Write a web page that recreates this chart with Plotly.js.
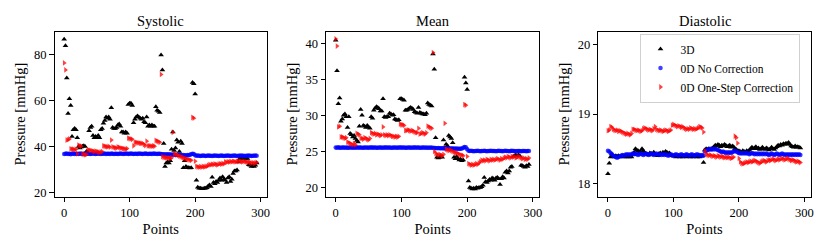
<!DOCTYPE html>
<html><head><meta charset="utf-8">
<script src="https://cdn.plot.ly/plotly-3.0.1.min.js"></script>
<style>html,body{margin:0;padding:0;background:#fff}#chart{width:830px;height:249px}</style>
</head><body><div id="chart"></div>
<script>
// point index (every 2nd sample)
const points = [0,2,4,6,8,10,12,14,16,18,20,22,24,26,28,30,32,34,36,38,40,42,44,46,48,50,52,54,56,58,60,62,64,66,68,70,72,74,76,78,80,82,84,86,88,90,92,94,96,98,100,102,104,106,108,110,112,114,116,118,120,122,124,126,128,130,132,134,136,138,140,142,144,146,148,150,152,154,156,158,160,162,164,166,168,170,172,174,176,178,180,182,184,186,188,190,192,194,196,198,200,202,204,206,208,210,212,214,216,218,220,222,224,226,228,230,232,234,236,238,240,242,244,246,248,250,252,254,256,258,260,262,264,266,268,270,272,274,276,278,280,282,284,286,288,290,292,294];

// Systolic
const sys3D = [86.8,84.0,70.0,54.5,61.0,58.0,44.5,47.5,48.0,47.5,
 44.0,40.2,39.5,40.0,40.3,40.5,40.2,38.0,37.8,47.0,
 48.5,49.0,45.0,44.0,44.5,44.0,45.0,44.0,47.5,48.0,
 50.3,51.5,53.0,52.5,53.0,52.0,57.0,48.5,48.0,48.0,
 48.5,49.5,50.0,49.0,46.5,46.5,46.0,46.5,46.0,58.5,
 59.0,59.0,58.0,50.5,52.0,53.0,53.5,53.0,52.5,52.0,
 52.5,51.0,50.5,53.0,49.0,49.5,49.0,49.5,49.0,49.0,
 57.5,56.0,55.5,55.0,80.0,73.5,41.5,31.5,33.0,33.5,
 33.0,34.0,39.0,46.5,38.5,39.5,43.0,42.0,38.0,42.5,
 41.5,31.0,34.0,31.5,31.0,31.0,30.8,31.0,68.0,67.5,
 63.0,25.5,22.5,22.0,22.0,21.8,21.8,22.0,22.0,22.2,
 23.0,23.5,22.8,26.8,24.5,24.0,25.0,24.5,25.5,26.5,
 25.5,27.0,26.0,25.5,24.5,26.5,27.0,25.0,26.0,28.5,
 29.5,29.5,30.0,33.5,35.0,35.0,34.8,35.2,35.0,34.8,
 35.0,32.3,32.0,31.5,32.0,31.5,32.0,33.0];
const sys0D = [36.9,37.0,37.1,36.9,37.0,36.8,37.0,37.1,36.9,37.0,
 37.0,36.9,37.1,37.0,36.9,37.0,37.1,36.9,37.0,37.0,
 36.9,37.0,37.1,37.0,36.9,37.0,37.0,37.1,36.9,37.0,
 37.0,37.1,36.9,37.0,37.0,36.9,37.1,37.0,36.9,37.0,
 37.0,36.9,37.0,37.1,37.0,36.9,37.0,37.0,37.1,36.9,
 37.0,37.1,37.0,36.9,37.0,37.0,36.9,37.1,37.0,37.0,
 36.9,37.0,37.1,37.0,36.9,37.0,37.0,36.9,37.1,37.0,
 37.0,36.9,37.0,37.0,36.9,36.8,36.8,36.7,36.8,36.7,
 36.8,36.7,36.6,36.7,36.6,36.5,36.6,36.5,36.6,36.5,
 36.4,36.5,36.4,36.3,36.5,36.4,36.6,36.8,37.0,36.9,
 36.4,36.2,36.3,36.2,36.1,36.2,36.3,36.2,36.1,36.2,
 36.3,36.2,36.2,36.1,36.2,36.3,36.2,36.2,36.1,36.2,
 36.3,36.2,36.1,36.2,36.2,36.3,36.2,36.1,36.2,36.2,
 36.3,36.2,36.1,36.2,36.2,36.3,36.2,36.2,36.1,36.2,
 36.2,36.3,36.2,36.1,36.2,36.2,36.3,36.2];
const sys0DOne = [76.5,73.5,43.0,43.2,43.5,39.2,39.0,39.0,38.8,39.0,
 37.0,40.8,40.5,40.3,37.0,36.8,36.5,36.8,38.8,38.6,
 38.5,38.4,38.2,38.0,38.2,38.0,37.8,37.6,37.8,38.0,
 40.5,40.3,40.1,40.0,40.2,39.9,43.0,40.0,39.8,39.6,
 39.5,40.0,39.8,39.5,39.5,39.3,39.2,39.0,39.3,43.8,
 43.6,43.5,43.3,40.5,42.0,42.0,41.8,41.8,41.6,41.5,
 41.5,41.0,40.6,42.5,40.5,40.5,40.4,40.3,40.5,40.3,
 42.8,42.5,42.3,42.0,71.5,35.8,35.5,35.4,35.3,35.2,
 35.2,35.0,35.3,46.3,37.0,36.8,36.5,36.3,36.0,35.8,
 35.5,35.3,35.0,34.8,34.6,34.5,34.3,34.2,52.8,52.5,
 33.8,31.5,31.3,31.2,31.4,31.2,31.5,31.3,31.5,31.6,
 32.0,32.3,32.2,32.5,32.3,32.6,32.4,32.2,32.5,32.7,
 32.5,32.8,32.6,33.5,33.3,33.6,33.4,33.7,33.5,33.8,
 33.6,33.5,33.8,33.6,33.9,33.7,33.5,33.8,33.6,33.5,
 33.3,33.5,33.2,33.0,33.2,32.9,33.1,33.3];

// Mean
const mean3D = [40.4,36.2,31.6,32.4,29.2,29.5,30.0,30.2,29.8,28.3,
 29.8,27.5,27.3,27.0,27.2,26.8,26.5,26.3,28.5,30.8,
 30.0,28.6,28.5,28.3,28.6,28.4,28.2,29.8,29.6,30.7,
 31.0,31.2,31.1,30.9,30.6,30.6,32.3,29.8,29.7,29.8,
 29.8,30.3,30.2,30.0,30.1,29.5,29.4,29.3,29.4,32.3,
 32.3,32.2,32.1,30.7,30.7,30.8,31.0,31.1,31.0,30.8,
 30.5,30.4,30.3,31.1,30.4,30.3,30.2,30.2,30.1,30.3,
 31.7,31.5,31.4,31.3,38.5,36.4,26.9,24.2,24.1,24.2,
 24.3,24.2,26.6,25.5,26.0,25.8,27.2,27.0,26.8,26.2,
 24.2,24.0,24.3,24.0,23.8,23.9,23.7,23.8,35.3,34.5,
 33.6,20.9,20.0,19.9,19.8,19.9,19.8,20.0,19.9,20.0,
 20.0,20.1,20.3,21.4,20.8,20.7,20.9,21.1,21.0,21.3,
 21.2,21.0,21.3,21.4,21.2,20.4,21.2,21.5,21.3,22.1,
 22.3,22.0,22.3,22.8,22.9,24.3,24.4,24.5,24.4,24.5,
 24.4,23.1,23.0,22.9,22.8,23.0,22.9,23.2];
const mean0D = [25.55,25.5,25.57,25.52,25.5,25.56,25.53,25.5,25.55,25.52,
 25.5,25.56,25.53,25.5,25.55,25.52,25.57,25.5,25.53,25.55,
 25.52,25.5,25.56,25.53,25.5,25.55,25.52,25.57,25.5,25.53,
 25.55,25.52,25.5,25.56,25.53,25.5,25.55,25.52,25.57,25.5,
 25.53,25.55,25.52,25.5,25.56,25.53,25.5,25.55,25.52,25.57,
 25.5,25.53,25.55,25.52,25.5,25.56,25.53,25.5,25.55,25.52,
 25.57,25.5,25.53,25.55,25.52,25.5,25.56,25.53,25.5,25.55,
 25.52,25.5,25.53,25.5,25.52,25.48,25.47,25.45,25.46,25.44,
 25.45,25.43,25.44,25.42,25.43,25.41,25.42,25.4,25.41,25.39,
 25.4,25.38,25.39,25.37,25.38,25.36,25.4,25.5,25.6,25.58,
 25.3,25.1,25.05,25.08,25.06,25.04,25.07,25.05,25.08,25.06,
 25.04,25.07,25.05,25.08,25.06,25.04,25.07,25.05,25.08,25.06,
 25.05,25.07,25.04,25.06,25.08,25.05,25.07,25.04,25.06,25.08,
 25.05,25.07,25.04,25.06,25.08,25.05,25.07,25.04,25.06,25.05,
 25.07,25.04,25.06,25.05,25.07,25.04,25.06,25.05];
const mean0DOne = [40.6,39.6,28.4,28.5,27.0,27.0,26.9,26.8,26.9,26.3,
 26.2,26.1,26.0,25.9,26.1,25.9,27.5,27.4,27.3,26.8,
 26.8,26.7,26.9,26.8,26.7,26.6,26.8,27.6,27.5,27.4,
 27.5,27.3,27.4,27.3,27.2,27.3,28.4,27.3,27.2,27.3,
 27.2,27.3,27.2,27.1,27.1,27.0,27.1,27.0,27.1,28.8,
 28.7,28.7,28.6,27.9,27.9,28.0,27.9,27.8,27.9,27.8,
 27.7,27.6,27.6,28.2,27.4,27.5,27.6,27.5,27.4,27.6,
 28.5,28.4,28.3,28.2,38.7,25.0,24.7,24.6,24.5,24.6,
 24.5,24.4,24.6,28.9,25.3,25.2,25.1,25.2,25.1,25.0,
 24.9,24.8,24.8,24.7,24.6,24.5,24.5,24.4,31.5,31.4,
 24.3,23.3,23.2,23.1,23.2,23.1,23.2,23.3,23.2,23.4,
 23.6,23.8,23.7,23.8,23.7,23.9,23.8,23.7,23.9,23.8,
 23.9,23.8,23.9,24.0,23.9,23.8,24.0,23.9,24.1,24.2,
 24.1,24.3,24.2,24.1,24.3,24.2,24.3,24.1,24.2,24.3,
 24.2,24.1,24.0,24.1,23.9,24.0,23.9,24.1];

// Diastolic
const dia3D = [18.14,18.29,18.38,18.42,18.40,18.38,18.40,18.39,18.40,18.38,
 18.39,18.40,18.38,18.39,18.38,18.40,18.38,18.39,18.38,18.42,
 18.45,18.50,18.48,18.47,18.45,18.46,18.50,18.47,18.44,18.43,
 18.42,18.41,18.44,18.43,18.42,18.45,18.42,18.41,18.40,18.43,
 18.44,18.42,18.45,18.43,18.46,18.45,18.43,18.44,18.41,18.40,
 18.39,18.40,18.38,18.39,18.40,18.38,18.39,18.38,18.40,18.39,
 18.38,18.39,18.40,18.38,18.39,18.38,18.40,18.39,18.38,18.39,
 18.38,18.39,18.40,18.30,18.48,18.50,18.49,18.50,18.48,18.50,
 18.51,18.53,18.55,18.54,18.56,18.55,18.53,18.55,18.54,18.56,
 18.55,18.53,18.54,18.55,18.52,18.54,18.53,18.50,18.49,18.47,
 18.47,18.46,18.45,18.47,18.46,18.45,18.47,18.46,18.48,18.50,
 18.52,18.50,18.51,18.53,18.50,18.51,18.49,18.50,18.52,18.50,
 18.49,18.51,18.50,18.48,18.50,18.52,18.50,18.49,18.51,18.53,
 18.55,18.54,18.56,18.55,18.57,18.56,18.58,18.57,18.59,18.56,
 18.54,18.53,18.52,18.54,18.52,18.53,18.52,18.51];
const dia0D = [18.47,18.46,18.44,18.42,18.40,18.39,18.38,18.37,18.38,18.39,
 18.40,18.41,18.40,18.41,18.42,18.41,18.42,18.41,18.42,18.43,
 18.42,18.43,18.42,18.41,18.42,18.43,18.42,18.41,18.42,18.43,
 18.42,18.41,18.42,18.43,18.42,18.41,18.42,18.43,18.42,18.41,
 18.42,18.41,18.42,18.41,18.42,18.41,18.40,18.41,18.42,18.41,
 18.40,18.41,18.42,18.41,18.40,18.41,18.42,18.41,18.40,18.41,
 18.42,18.41,18.40,18.41,18.42,18.41,18.40,18.41,18.42,18.41,
 18.41,18.40,18.41,18.40,18.46,18.47,18.48,18.49,18.50,18.49,
 18.50,18.49,18.50,18.49,18.48,18.47,18.46,18.45,18.46,18.45,
 18.44,18.45,18.44,18.45,18.44,18.45,18.46,18.47,18.46,18.45,
 18.44,18.43,18.44,18.43,18.44,18.43,18.44,18.43,18.42,18.43,
 18.44,18.43,18.42,18.43,18.42,18.43,18.42,18.43,18.42,18.43,
 18.42,18.43,18.42,18.41,18.42,18.43,18.42,18.41,18.42,18.43,
 18.42,18.41,18.42,18.43,18.42,18.41,18.42,18.41,18.42,18.41,
 18.42,18.41,18.42,18.41,18.42,18.41,18.42,18.41];
const dia0DOne = [18.76,18.77,18.82,18.81,18.78,18.77,18.76,18.77,18.75,18.76,
 18.75,18.74,18.73,18.72,18.71,18.72,18.71,18.70,18.72,18.78,
 18.78,18.77,18.76,18.77,18.76,18.75,18.76,18.79,18.80,18.79,
 18.78,18.77,18.78,18.77,18.76,18.79,18.82,18.78,18.77,18.76,
 18.77,18.76,18.75,18.76,18.77,18.76,18.75,18.76,18.77,18.84,
 18.85,18.84,18.83,18.82,18.83,18.82,18.81,18.82,18.80,18.79,
 18.78,18.79,18.78,18.80,18.79,18.78,18.79,18.78,18.79,18.80,
 18.82,18.81,18.80,18.74,18.47,18.42,18.41,18.40,18.41,18.40,
 18.39,18.40,18.39,18.38,18.40,18.39,18.38,18.39,18.38,18.37,
 18.38,18.37,18.38,18.37,18.36,18.37,18.38,18.68,18.66,18.58,
 18.36,18.31,18.29,18.28,18.29,18.30,18.31,18.30,18.31,18.32,
 18.31,18.32,18.33,18.32,18.31,18.30,18.29,18.31,18.32,18.33,
 18.32,18.31,18.33,18.34,18.33,18.34,18.35,18.34,18.33,18.34,
 18.35,18.34,18.35,18.36,18.35,18.34,18.35,18.36,18.35,18.34,
 18.33,18.34,18.33,18.32,18.31,18.32,18.31,18.30];

const seriesNames = ["3D", "0D No Correction", "0D One-Step Correction"];
const panelTitles = ["Systolic", "Mean", "Diastolic"];
const xTicks = [0, 100, 200, 300];
const yTicks = [[20, 40, 60, 80], [20, 25, 30, 35, 40], [18, 19, 20]];

const FONT = "'Liberation Serif', 'Times New Roman', Times, serif";
const panels = [[sys3D, sys0D, sys0DOne], [mean3D, mean0D, mean0DOne], [dia3D, dia0D, dia0DOne]];
const styles = [
  {symbol: "triangle-up", color: "#000000", size: 5, opacity: 1},
  {symbol: "circle", color: "#0000ff", size: 4.5, opacity: 0.75},
  {symbol: "triangle-right", color: "#ff0000", size: 5, opacity: 0.75}
];
const traces = [];
panels.forEach((p, pi) => {
  p.forEach((ys, si) => {
    const st = styles[si];
    traces.push({
      type: "scatter", mode: "markers", x: points, y: ys,
      name: seriesNames[si], showlegend: pi === 2,
      xaxis: pi === 0 ? "x" : "x" + (pi + 1), yaxis: pi === 0 ? "y" : "y" + (pi + 1),
      marker: {symbol: st.symbol, color: st.color, size: st.size, opacity: st.opacity, line: {width: 0}}
    });
  });
});

const W = 830, H = 249;
const xdom = [[54.5, 267], [326, 539.3], [598.3, 810.7]];
const ydom = [1 - 196.5 / H, 1 - 31.7 / H];
const yr = [[18.45, 90.1], [18.75, 41.6], [17.81, 20.19]];
const layout = {
  width: W, height: H, margin: {l: 0, r: 0, t: 0, b: 0},
  paper_bgcolor: "#fff", plot_bgcolor: "#fff",
  font: {family: FONT, size: 11, color: "#000"},
  showlegend: true,
  legend: {x: 639.5 / W, y: 1 - 33.5 / H, xanchor: "left", yanchor: "top",
    bgcolor: "rgba(255,255,255,0.8)", bordercolor: "#d0d0d0", borderwidth: 1,
    itemwidth: 30, font: {family: FONT, size: 11.5, color: "#000"}},
  annotations: []
};
for (let i = 0; i < 3; i++) {
  const sfx = i === 0 ? "" : String(i + 1);
  layout["xaxis" + sfx] = {
    domain: [xdom[i][0] / W, xdom[i][1] / W], range: [-14.75, 309.75], anchor: "y" + sfx,
    tickvals: xTicks, ticks: "outside", ticklen: 4.5, tickwidth: 1, tickcolor: "#000",
    showline: true, linecolor: "#000", linewidth: 1, mirror: true, showgrid: false, zeroline: false,
    tickfont: {family: FONT, size: 12.5}, automargin: false,
    title: {text: "Points", font: {family: FONT, size: 14.5}, standoff: 4}
  };
  layout["yaxis" + sfx] = {
    domain: ydom, range: yr[i], anchor: "x" + sfx,
    tickvals: yTicks[i], ticks: "outside", ticklen: 4.5, tickwidth: 1, tickcolor: "#000",
    showline: true, linecolor: "#000", linewidth: 1, mirror: true, showgrid: false, zeroline: false,
    tickfont: {family: FONT, size: 12.5}, automargin: false,
    title: {text: "Pressure [mmHg]", font: {family: FONT, size: 14.5}, standoff: 4}
  };
  layout.annotations.push({
    text: panelTitles[i], xref: "paper", yref: "paper",
    x: (xdom[i][0] + xdom[i][1]) / 2 / W, y: 1 - 20.7 / H, xanchor: "center", yanchor: "middle",
    showarrow: false, font: {family: FONT, size: 14.5, color: "#000"}
  });
}
Plotly.newPlot("chart", traces, layout, {displayModeBar: false, staticPlot: true});
</script>
</body></html>
